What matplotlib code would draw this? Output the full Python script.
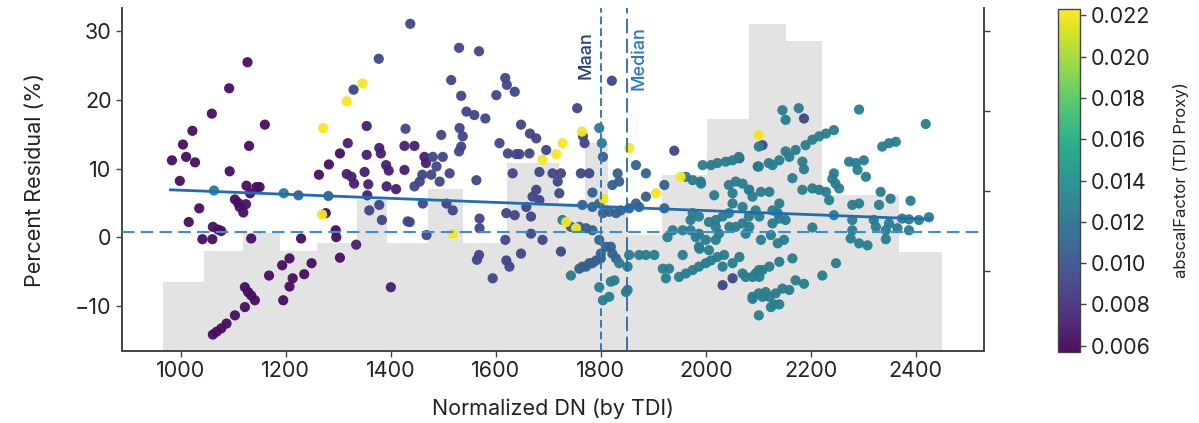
import numpy as np
import matplotlib
matplotlib.use("Agg")
import matplotlib.pyplot as plt
from matplotlib.ticker import FormatStrFormatter

plt.rcParams['font.family'] = ['Inter', 'DejaVu Sans']

# ---------------- data ----------------
# purple points (low abscalFactor)
purple_x = [983, 998, 1004, 1010, 1027, 1022, 1015, 1035, 1041, 1060, 1059, 1061, 1071, 1077,
            1092, 1093, 1103, 1109, 1112, 1119, 1124, 1127, 1130, 1125, 1132, 1144, 1150, 1134,
            1160, 1122, 1128, 1134, 1141, 1122, 1103, 1087, 1077, 1068, 1061, 1168, 1193, 1207,
            1213, 1207, 1195, 1229, 1235, 1249, 1263, 1276, 1282, 1295, 1296, 1303, 1303]
purple_y = [11.2, 8.2, 13.5, 11.7, 10.9, 15.5, 2.2, 4.2, -0.3, -0.3, 18.0, 1.5, 1.1, 0.9,
            21.7, 9.6, 5.5, 5.0, 4.4, 3.6, 4.8, 25.5, 13.3, 7.5, 6.4, 7.3, 7.3, -0.2,
            16.4, -7.3, -8.0, -8.5, -9.2, -10.2, -11.4, -12.6, -13.3, -13.8, -14.2, -5.6, -4.1, -3.1,
            -6.0, -7.2, -9.2, -0.2, -5.4, -3.8, 9.1, 3.5, 10.6, 1.0, 0.0, -3.0, 12.2]
purple_factor = 0.0063

purple2_x = [1318, 1316, 1325, 1330, 1334, 1350, 1354, 1354, 1357, 1355, 1378, 1381, 1391, 1396,
             1392, 1410, 1400, 1426, 1445, 1426, 1464, 1467]
purple2_y = [13.7, 9.2, 8.8, 7.8, -1.1, 9.5, 12.0, 16.2, 7.7, 6.1, 13.0, 12.2, 10.5, 9.7,
             7.4, 7.0, -7.3, 13.3, 13.3, 9.8, 11.7, 10.8]
purple2_factor = 0.0071

indigo_x = [1329, 1377, 1428, 1437, 1432, 1359, 1378, 1383,
            1480, 1487, 1499, 1496, 1460, 1445, 1455, 1477, 1512, 1493,
            1515, 1530, 1568, 1534, 1544, 1559, 1580, 1531, 1537, 1534, 1530, 1563, 1506, 1518,
            1461, 1436, 1468, 1569, 1569, 1568, 1564, 1594,
            1607, 1623, 1639, 1632, 1648, 1665, 1677, 1645,
            1618, 1621, 1636, 1601, 1620, 1636, 1618, 1620, 1626, 1648,
            1664, 1683, 1677, 1670, 1683, 1658, 1667, 1667,
            1696, 1708, 1724, 1718, 1689, 1721, 1724, 1755, 1766, 1769, 1762, 1778,
            1821, 1940, 2187, 2108, 2099, 2064, 2032, 2051]
indigo_y = [21.5, 26.0, 15.8, 31.1, 2.3, 3.9, 4.7, 2.5,
            11.7, 10.3, 11.7, 14.9, 9.1, 7.4, 8.1, 9.1, 9.3, 8.1,
            22.9, 27.6, 27.1, 20.6, 18.3, 17.8, 17.3, 15.9, 14.7, 13.2, 12.5, 8.3, 4.9, 3.9,
            4.9, 2.2, 0.3, 2.7, 1.3, -2.6, -3.3, -6.0,
            13.7, 12.2, 12.1, 9.3, 16.4, 15.1, 14.4, 12.1,
            23.2, 22.2, 21.2, 20.7, 3.5, 3.2, -0.4, -3.4, -4.3, -2.4,
            12.2, 9.5, 6.9, 5.9, 5.4, 4.4, 3.0, 0.5,
            12.7, 9.3, 9.3, 8.1, -0.4, 6.4, -2.1, 18.8, 14.7, 13.7, 9.3, 9.3,
            22.8, 12.6, 17.3, 13.4, 10.3, 11.5, -7.0, -6.0]
indigo_factor = 0.0092

blue_x = [1224, 1281, 1784, 1765, 1784, 1797, 1804, 1816, 1829, 1838, 1854, 1867, 1873, 1886,
          1804, 1832, 1835, 1822, 1867, 1886, 1921, 1921, 1743, 1759, 1772, 1784, 1797, 1810,
          1822, 1829, 1800, 1784, 1772, 1759, 1765, 1778, 1791, 1800, 1819]
blue_y = [6.1, 6.0, 6.5, 4.7, 4.4, 4.9, 3.5, 3.7, 3.5, 3.9, 4.2, 4.9, 4.4, 5.9,
          11.7, 9.3, 8.1, 7.6, 10.5, 9.3, 7.6, 4.2, 1.5, 1.5, 1.3, 1.0, -0.4, -1.4,
          -2.4, -3.1, -3.1, -3.8, -4.3, -4.6, -4.3, -3.8, -3.4, -2.4, -1.4]
blue_factor = 0.0108

teal_x = [1063, 1196, 1727, 1797, 1802, 1743, 1797, 1804, 1816, 1848, 1819, 1851, 1835, 1851, 1826,
          1854, 1873, 1886, 1902, 1918, 1924, 1930, 1927, 1937, 1956, 1971, 1971, 1981, 1987, 2000,
          1956, 1949, 1962, 1975, 1987, 2000, 2010, 2022, 2035, 1975, 1987, 2006, 2019, 2025, 1987, 2006,
          1962, 1975, 1990, 1994, 2010, 2022, 2038, 2051, 2063,
          2044, 2057, 2070, 2082, 2051, 2051, 2070, 2082, 2044, 2057, 2076,
          2089, 2101, 2089, 2101, 2114, 2101, 2101, 2120, 2101, 2152, 2177,
          2146, 2292, 2419, 2190, 2203, 2216, 2229, 2244, 2159, 2171, 2127, 2140, 2152, 2184, 2187,
          2336, 2349, 2362, 2273, 2286, 2301, 2289, 2305, 2244, 2247, 2241, 2165, 2184, 2203, 2216,
          2229, 2235, 2254, 2121, 2140, 2105, 2333, 2352, 2390, 2330, 2279, 2292, 2083, 2089, 2016, 1991,
          2244, 2279, 2320, 2349, 2374, 2387, 2406, 2425, 2279, 2324, 2343, 2365, 2387, 2276, 2292,
          2308, 2343, 2203, 2248, 2222,
          2127, 2140, 2152, 2127, 2137, 2105, 2124, 2137, 2149, 2083, 2070, 2102, 2095, 2045, 2032,
          2019, 1988, 2019,
          2064, 2051, 2032, 2121, 2140, 2165, 2108, 2095, 2070, 2076, 2102, 2171, 2187, 2159, 2146,
          2133, 2121, 2108, 2089, 2130, 2140, 2124]
teal_y = [6.8, 6.4, 2.5, 15.9, 13.7, -5.6, -7.3, -9.2, -8.7, -8.0, -6.5, -7.7, -3.8, -4.3, -6.3,
          -2.6, -2.6, -2.6, -2.6, -4.6, -6.0, -4.6, 0.0, 1.0, 1.0, 2.5, 1.0, 0.0, 0.5, -0.4,
          -2.6, -5.8, -5.3, -4.8, -4.3, -3.8, -3.4, -2.9, -2.6, 3.5, 3.0, 2.2, 1.5, 0.5, -1.4, -1.9,
          8.8, 8.3, 8.1, 10.5, 10.5, 10.8, 11.0, 11.2, 11.7,
          7.6, 8.1, 7.8, 6.9, 6.4, 4.9, 4.4, 3.0, 3.5, 1.5, 0.5,
          -5.8, -4.8, -8.7, -8.2, -8.0, -11.4, 10.3, 10.8, 13.2, 17.1, 18.8,
          18.5, 18.6, 16.5, 13.4, 14.2, 14.7, 15.1, 15.6, 11.7, 12.7, 10.5, 11.2, 12.5, 11.0, 9.9,
          13.2, 13.7, 13.9, 11.0, 10.8, 11.2, 9.8, 8.8, 9.3, 7.8, 8.5, 8.6, 6.9, 7.1, 6.9,
          6.6, 5.4, 7.1, 6.6, 4.9, 6.6, 6.6, 5.6, 5.3, 4.7, 4.7, 4.9, 6.9, 5.9, 6.1, 7.8,
          3.2, 2.5, 2.5, 2.0, 2.7, 2.6, 2.5, 2.9, 1.0, 1.5, 1.0, 1.3, 1.0, -0.2, -0.9,
          -1.2, -0.3, 1.4, -3.8, -5.6,
          2.0, 2.7, 2.5, 3.9, 3.5, -0.4, 0.3, -0.9, -0.4, 1.5, 2.0, 3.0, 3.9, 1.5, 3.0,
          2.5, -1.7, -0.4,
          -2.9, -3.8, -4.3, -4.3, -3.6, -3.1, -4.8, -5.3, -5.3, -5.8, -5.8, -6.3, -6.8, -7.7, -7.5,
          -8.2, -8.7, -8.7, -9.0, -9.8, -9.8, -10.2]
teal_factor = 0.0127

yellow_x = [1271, 1269, 1316, 1346, 1518, 1689, 1715, 1727, 1734, 1764, 1805, 1854, 1905, 1952, 2101, 1753]
yellow_y = [15.9, 3.3, 19.8, 22.4, 0.5, 11.3, 12.1, 13.7, 2.2, 15.4, 5.6, 13.0, 6.4, 8.8, 14.9, 1.3]
yellow_factor = 0.0221

# histogram of Normalized DN (background, counts)
hist_edges = [966, 1044, 1118, 1188, 1259, 1335, 1392, 1470, 1537, 1622, 1721,
              1769, 1813, 1851, 1917, 2003, 2083, 2153, 2222, 2368, 2450]
hist_counts = [8.6, 12.5, 14.8, 12.5, 13.5, 18.9, 13.5, 20.3, 13.5, 23.5,
               18.5, 26.0, 17.4, 14.5, 22.0, 29.0, 40.9, 38.8, 19.5, 12.4]

# trend line and reference values
fit_x = [980, 2430]
fit_y = [6.9, 2.6]
ref_level = 0.8
mean_dn = 1800
median_dn = 1850

x_ticks = [1000, 1200, 1400, 1600, 1800, 2000, 2200, 2400]
y_ticks = [-10, 0, 10, 20, 30]
cbar_ticks = [0.006, 0.008, 0.010, 0.012, 0.014, 0.016, 0.018, 0.020, 0.022]

# ---------------- assemble ----------------
groups = [(purple_x, purple_y, purple_factor), (purple2_x, purple2_y, purple2_factor),
          (indigo_x, indigo_y, indigo_factor), (blue_x, blue_y, blue_factor),
          (teal_x, teal_y, teal_factor), (yellow_x, yellow_y, yellow_factor)]
xs, ys, cs = [], [], []
for gx, gy, gf in groups:
    xs += list(gx)
    ys += list(gy)
    cs += [gf] * len(gx)

fig = plt.figure(figsize=(11.99, 4.23), dpi=100)
ax = fig.add_axes([0.1018, 0.1702, 0.7189, 0.8108])
ax2 = ax.twinx()
ax.set_zorder(ax2.get_zorder() + 1)
ax.patch.set_visible(False)

edges = np.array(hist_edges, dtype=float)
ax2.bar(edges[:-1], hist_counts, width=np.diff(edges), align='edge',
        color='#e3e3e3', edgecolor='none', linewidth=0)
ax2.set_ylim(0, 42.9)
ax2.set_yticks([10, 20, 30, 40])
ax2.set_yticklabels([])
ax2.tick_params(axis='y', direction='out', length=4, width=1, color='#444444')

sc = ax.scatter(xs, ys, c=cs, cmap='viridis', vmin=0.0057, vmax=0.0223,
                s=54, edgecolors='none', alpha=0.95, zorder=3)

ax.plot(fit_x, fit_y, color='#1f6db4', lw=2.0, zorder=4)
ax.axhline(ref_level, color='#3b8fd6', lw=1.5, ls=(0, (6, 3)), zorder=4)
ax.axvline(mean_dn, color='#2f7cc0', lw=1.4, ls=(0, (4, 2)), zorder=4)
ax.axvline(median_dn, color='#2a6aa8', lw=1.3, ls=(0, (8, 3)), zorder=4)

ax.text(mean_dn - 12, 30.0, 'Maan', rotation=90, ha='right', va='top',
        color='#25407a', fontsize=13, fontweight='medium')
ax.text(median_dn + 6, 30.8, 'Median', rotation=90, ha='left', va='top',
        color='#2a78c2', fontsize=13, fontweight='medium')

ax.set_xlim(888, 2530)
ax.set_ylim(-16.6, 33.4)
ax.set_xticks(x_ticks)
ax.set_yticks(y_ticks)
ax.tick_params(axis='both', labelsize=15.5, length=4, width=1, color='#444444', labelcolor='#222222')
ax.set_xlabel('Normalized DN (by TDI)', fontsize=15.5, color='#222222', labelpad=12)
ax.set_ylabel('Percent Residual (%)', fontsize=15.5, color='#222222', labelpad=22)

for a in (ax, ax2):
    a.spines['top'].set_visible(False)
    for s in ('left', 'bottom', 'right'):
        a.spines[s].set_color('#444444')
        a.spines[s].set_linewidth(1.2)

cax = fig.add_axes([0.8824, 0.1678, 0.0183, 0.8109])
cb = fig.colorbar(sc, cax=cax, ticks=cbar_ticks)
cb.ax.yaxis.set_major_formatter(FormatStrFormatter('%.3f'))
cb.ax.tick_params(labelsize=15.5, length=4, width=1, color='#444444', labelcolor='#222222')
cb.outline.set_edgecolor('#444444')
cb.outline.set_linewidth(1.0)
cb.set_label('abscalFactor (TDI Proxy)', fontsize=12, color='#222222', labelpad=16)

fig.savefig('out.png', dpi=100)
